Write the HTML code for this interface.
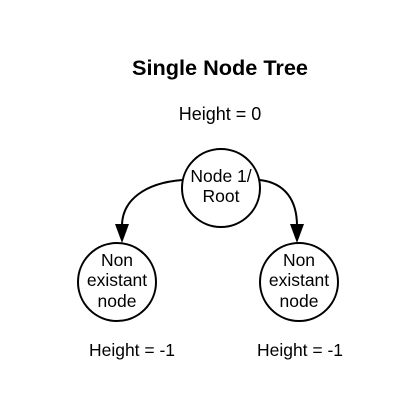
<!DOCTYPE html>
<html><head><style>
html,body{margin:0;padding:0;background:#fff;}
svg{display:block;}
text{font-family:"Liberation Sans",Arial,sans-serif;fill:#000;}
</style></head><body>
<svg width="410" height="405" viewBox="0 0 410 405" xmlns="http://www.w3.org/2000/svg">
<text x="220" y="75" font-size="21.7" font-weight="bold" text-anchor="middle">Single Node Tree</text>
<text x="220" y="120" font-size="18" text-anchor="middle">Height = 0</text>
<g fill="#fff" stroke="#000" stroke-width="2">
<circle cx="221" cy="188" r="39"/>
<circle cx="117" cy="282" r="39"/>
<circle cx="299" cy="282" r="39"/>
</g>
<g fill="none" stroke="#000" stroke-width="2">
<path d="M182 180 C145 183 122 200 122 226"/>
<path d="M260 180 C285 183 297 200 297 226"/>
</g>
<g fill="#000">
<polygon points="115,224 129,224 122,243"/>
<polygon points="290,224 304,224 297,243"/>
</g>
<g font-size="17.5" text-anchor="middle">
<text x="221" y="182">Node 1/</text>
<text x="221" y="202">Root</text>
<text x="117" y="266">Non</text>
<text x="117" y="286">existant</text>
<text x="117" y="307">node</text>
<text x="299" y="266">Non</text>
<text x="299" y="286">existant</text>
<text x="299" y="307">node</text>
<text x="132" y="356">Height = -1</text>
<text x="300" y="356">Height = -1</text>
</g>
</svg>
</body></html>
